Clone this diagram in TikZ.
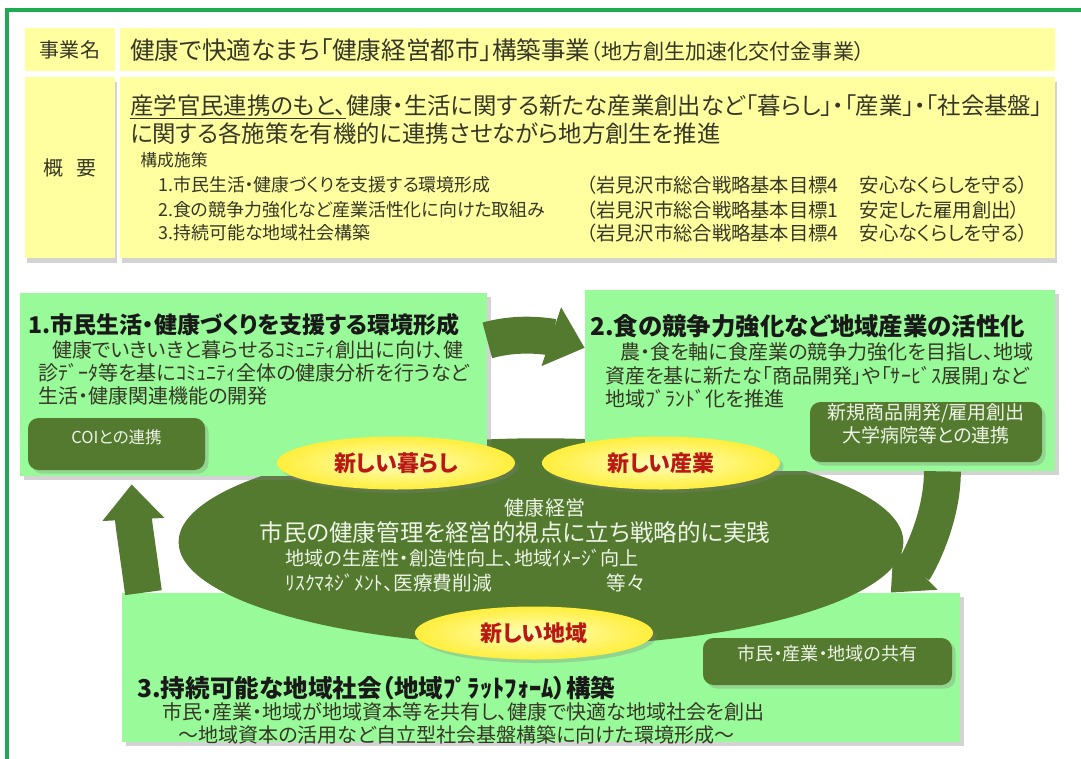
\documentclass[tikz,border=0pt]{standalone}
\usepackage{fontspec}
\setmainfont{Noto Sans CJK JP}[RawFeature=+palt]
\usetikzlibrary{positioning,calc,fit,shapes.geometric,shadows,arrows.meta}

\definecolor{framegreen}{RGB}{30,170,80}
\definecolor{tabyellow}{RGB}{255,255,160}
\definecolor{boxgreen}{RGB}{152,250,152}
\definecolor{darkgreen}{RGB}{84,122,48}
\definecolor{ovalyellow}{RGB}{255,238,60}
\definecolor{ovalcenter}{RGB}{255,255,190}
\definecolor{ovaltext}{RGB}{185,25,20}
\definecolor{bodytext}{RGB}{55,55,40}
\definecolor{titletext}{RGB}{25,25,25}
\definecolor{lighttext}{RGB}{238,244,230}

\newcommand{\pts}[1]{\fontsize{#1pt}{#1pt}\selectfont}

\tikzset{
  cell/.style={fill=tabyellow, inner sep=0pt},
  panel/.style={fill=boxgreen, inner sep=0pt,
    drop shadow={shadow xshift=2.5pt, shadow yshift=-2.5pt, opacity=0.35}},
  tag/.style={fill=darkgreen, rounded corners=6pt, inner sep=0pt, text=lighttext,
    drop shadow={shadow xshift=2pt, shadow yshift=-2pt, opacity=0.3}},
  badge/.style={ellipse, inner sep=0pt, inner color=ovalcenter, outer color=ovalyellow,
    text=ovaltext, font=\bfseries\pts{12.5},
    drop shadow={shadow xshift=2pt, shadow yshift=-2pt, opacity=0.3}},
  txt/.style={anchor=west, inner sep=0pt, text=bodytext},
  head/.style={txt, text=titletext, font=\bfseries\pts{13.1}},
  bigarrow/.style={draw=darkgreen, line width=21pt, -{Triangle[length=20pt,width=34pt]}},
}

\begin{document}
\begin{tikzpicture}[x=0.02cm, y=-0.02cm]
\useasboundingbox (0,0) rectangle (1081,758);
\clip (0,0) rectangle (1081,758);
\draw[framegreen, line width=2pt] (7,10) rectangle (1120,800);

\node[cell, fit={(25,28)(115,71)}] (namecell) {};
\node[cell, fit={(120,28)(1055,71)}] (titlecell) {};
\node[cell, drop shadow={shadow xshift=1pt, shadow yshift=-3pt, opacity=0.35},
  fit={(25,77)(115,258)}] (sumcell) {};
\node[cell, drop shadow={shadow xshift=1pt, shadow yshift=-3pt, opacity=0.35},
  fit={(120,77)(1055,258)}] (bodycell) {};

\node[text=bodytext, font=\pts{11.4}] (namelbl) at (namecell) {事業名};
\node[text=bodytext, font=\pts{11.4}] (sumlbl) at (sumcell) {概\hspace{0.6em}要};
\node[txt, font=\pts{14}] (projname) at (130,50)
  {健康で快適なまち「健康経営都市」構築事業{\pts{12}（地方創生加速化交付金事業）}};
\node[txt, font=\pts{13.3}] (sum1) at (130,107)
  {\underline{産学官民連携のもと、}健康・生活に関する新たな産業創出など「暮らし」・「産業」・「社会基盤」};
\node[txt, font=\pts{13.3}] (sum2) at (130,134) {に関する各施策を有機的に連携させながら地方創生を推進};
\node[txt, font=\pts{9.6}] (parts) at (140,160) {構成施策};
\node[txt, font=\pts{10.2}] (part1) at (158,185) {1.市民生活・健康づくりを支援する環境形成};
\node[txt, font=\pts{10.2}] (part2) at (158,210) {2.食の競争力強化など産業活性化に向けた取組み};
\node[txt, font=\pts{10.2}] (part3) at (158,233) {3.持続可能な地域社会構築};
\node[txt, font=\pts{11}] (goal1) at (586,185) {（岩見沢市総合戦略基本目標4\hspace{1.1em}安心なくらしを守る）};
\node[txt, font=\pts{11}] (goal2) at (586,210) {（岩見沢市総合戦略基本目標1\hspace{1.1em}安定した雇用創出）};
\node[txt, font=\pts{11}] (goal3) at (586,233) {（岩見沢市総合戦略基本目標4\hspace{1.1em}安心なくらしを守る）};

\node[panel, fit={(122,593)(960,742)}] (box3) {};
\node[ellipse, fill=darkgreen, minimum width=14.5cm, minimum height=4.15cm] (core) at (541,542) {};
\node[panel, fit={(20,293)(487,476)}] (box1) {};
\node[panel, fit={(585,290)(1055,471)}] (box2) {};

\node[head] (title1) at (28,325) {1.市民生活・健康づくりを支援する環境形成};
\node[txt, font=\pts{11.4}] (text1a) at (52,350) {健康でいきいきと暮らせるｺﾐｭﾆﾃｨ創出に向け、健};
\node[txt, font=\pts{11.4}] (text1b) at (38,373) {診ﾃﾞｰﾀ等を基にｺﾐｭﾆﾃｨ全体の健康分析を行うなど};
\node[txt, font=\pts{11.4}] (text1c) at (38,396) {生活・健康関連機能の開発};
\node[tag, font=\pts{9.4}, fit={(28,418)(205,470)}] (tag1) {COIとの連携};

\node[head, font=\bfseries\pts{13.9}] (title2) at (590,326) {2.食の競争力強化など地域産業の活性化};
\node[txt, font=\pts{11.4}] (text2a) at (620,352) {農・食を軸に食産業の競争力強化を目指し、地域};
\node[txt, font=\pts{11.4}] (text2b) at (605,376) {資産を基に新たな「商品開発」や「ｻｰﾋﾞｽ展開」など};
\node[txt, font=\pts{11.4}] (text2c) at (605,399) {地域ﾌﾞﾗﾝﾄﾞ化を推進};
\node[tag, font=\pts{10.8}, align=left, fit={(810,402)(1042,462)}] (tag2)
  {新規商品開発/雇用創出\\[1pt]大学病院等との連携};

\node[head, font=\bfseries\pts{14}] (title3) at (137,688) {3.持続可能な地域社会（地域ﾌﾟﾗｯﾄﾌｫｰﾑ）構築};
\node[txt, font=\pts{11.4}] (text3a) at (162,712) {市民・産業・地域が地域資本等を共有し、健康で快適な地域社会を創出};
\node[txt, font=\pts{11.4}] (text3b) at (178,735) {～地域資本の活用など自立型社会基盤構築に向けた環境形成～};
\node[tag, font=\pts{10.3}, fit={(703,638)(952,685)}] (tag3) {市民・産業・地域の共有};

\node[text=lighttext, font=\pts{11.4}] (core1) at (545,508) {健康経営};
\node[text=lighttext, font=\pts{13.4}] (core2) at (515,533) {市民の健康管理を経営的視点に立ち戦略的に実践};
\node[txt, text=lighttext, font=\pts{10.9}] (core3) at (285,558) {地域の生産性・創造性向上、地域ｲﾒｰｼﾞ向上};
\node[txt, text=lighttext, font=\pts{11.2}] (core4) at (285,583) {ﾘｽｸﾏﾈｼﾞﾒﾝﾄ、医療費削減\hspace{2.3cm}等々};

\node[badge, minimum width=4.76cm, minimum height=1.06cm] (life) at (396,463) {新しい暮らし};
\node[badge, minimum width=4.76cm, minimum height=1.06cm] (industry) at (661,463) {新しい産業};
\node[badge, minimum width=4.76cm, minimum height=1.06cm] (region) at (534,633) {新しい地域};

\draw[bigarrow] ($(box1.north east)!0.26!(box1.south east)$)
  .. controls +(35,-10) and +(-30,-10) .. ($(box2.north west)!0.32!(box2.south west)$);
\draw[bigarrow] ($(box2.south west)!0.76!(box2.south east)$)
  .. controls +(0,50) and +(25,-25) .. ($(box3.north west)!0.917!(box3.north east)$);
\draw[bigarrow] ($(box3.north west)!0.026!(box3.north east)$)
  .. controls +(-6,-45) and +(2,40) .. ($(box1.south west)+(112,8)$);
\end{tikzpicture}
\end{document}
